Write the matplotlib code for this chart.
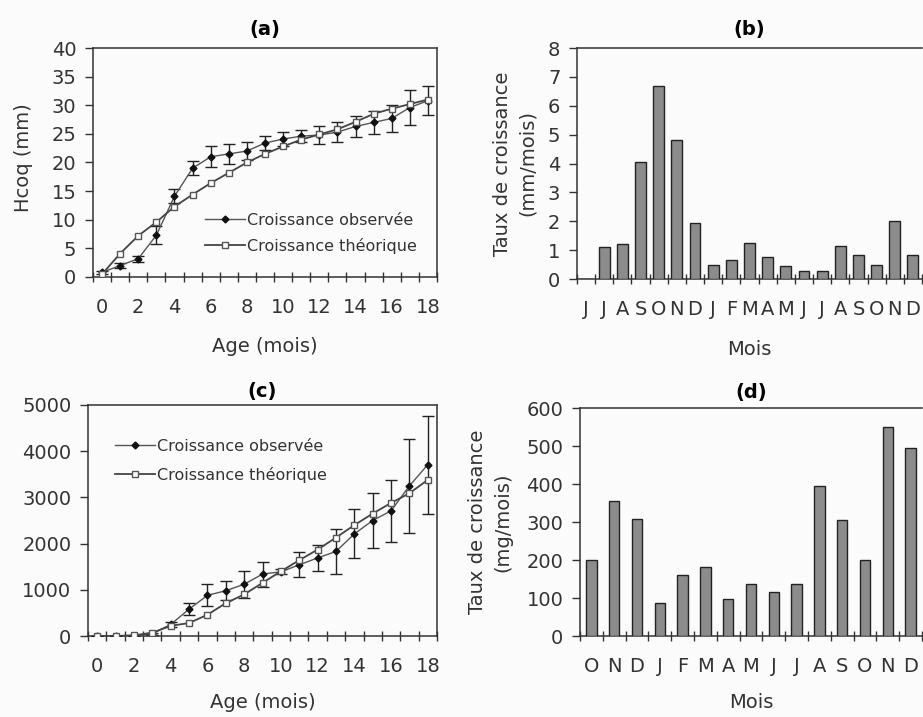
import numpy as np
import matplotlib
matplotlib.use('Agg')
import matplotlib.pyplot as plt

plt.rcParams['font.family'] = 'DejaVu Sans'
plt.rcParams['font.size'] = 14

# Données (a) : hauteur de la coquille
ages = list(range(0, 19))
hcoq_obs = [0.8, 2.0, 3.2, 7.3, 14.1, 19.0, 21.0, 21.5, 22.0, 23.4, 24.1,
            24.6, 24.8, 25.3, 26.3, 27.0, 27.7, 29.6, 30.8]
hcoq_err = [0.3, 0.4, 0.5, 1.6, 1.2, 1.2, 1.8, 1.7, 1.5, 1.2, 1.3,
            1.1, 1.5, 1.8, 1.8, 2.0, 2.3, 3.0, 2.5]
hcoq_theo = [0.5, 4.1, 7.2, 9.6, 12.3, 14.4, 16.4, 18.2, 20.0, 21.5, 22.8,
             24.0, 24.9, 25.8, 27.1, 28.5, 29.4, 30.2, 31.0]

# Données (b) : taux de croissance en longueur
mois_b = ['J', 'J', 'A', 'S', 'O', 'N', 'D', 'J', 'F', 'M', 'A', 'M',
          'J', 'J', 'A', 'S', 'O', 'N', 'D']
taux_b = [0, 1.1, 1.2, 4.05, 6.7, 4.8, 1.95, 0.47, 0.65, 1.25, 0.75, 0.46,
          0.27, 0.27, 1.13, 0.84, 0.47, 2.0, 0.84]

# Données (c) : poids
poids_obs = [5, 5, 10, 50, 250, 580, 880, 980, 1120, 1340, 1390, 1540,
             1690, 1830, 2210, 2500, 2710, 3250, 3710]
poids_err = [0, 0, 0, 20, 50, 130, 240, 200, 290, 270, 50, 270,
             280, 490, 530, 590, 670, 1010, 1060]
poids_theo = [0, 0, 15, 70, 220, 280, 460, 710, 900, 1150, 1400, 1640,
              1870, 2130, 2400, 2650, 2880, 3090, 3380]

# Données (d) : taux de croissance pondéral
mois_d = ['O', 'N', 'D', 'J', 'F', 'M', 'A', 'M', 'J', 'J', 'A', 'S',
          'O', 'N', 'D']
taux_d = [200, 355, 307, 87, 160, 181, 98, 138, 116, 138, 396, 304,
          200, 551, 496]

W, H = 923, 717
bg = '#fbfbfb'
fig = plt.figure(figsize=(W / 100, H / 100), dpi=100, facecolor=bg)


def px_axes(l, t, r, b):
    return fig.add_axes([l / W, 1 - b / H, (r - l) / W, (b - t) / H])


def style_axes(ax, n, xlabels_pos, xlabels):
    ax.set_facecolor(bg)
    for s in ax.spines.values():
        s.set_color('#333333')
        s.set_linewidth(1.1)
    ax.set_xlim(-0.5, n - 0.5)
    ax.set_xticks(np.arange(-0.5, n, 1.0))
    ax.set_xticklabels([])
    ax.set_xticks(xlabels_pos, minor=True)
    ax.set_xticklabels(xlabels, minor=True)
    ax.tick_params(axis='x', which='major', direction='inout', length=7,
                   width=1, color='#333333')
    ax.tick_params(axis='x', which='minor', length=0, pad=15,
                   labelcolor='#333333')
    ax.tick_params(axis='y', direction='out', length=6, width=1, pad=6,
                   color='#333333', labelcolor='#333333')


def courbes(ax, obs, err, theo):
    ax.errorbar(ages, obs, yerr=err, fmt='none', ecolor='#222222',
                elinewidth=1, capsize=4, capthick=1, zorder=3)
    ax.plot(ages, obs, color='#555555', lw=1, marker='D', ms=3.5,
            mfc='#111111', mec='#111111', label='Croissance observée', zorder=4)
    ax.plot(ages, theo, color='#444444', lw=1.3, marker='s', ms=4,
            mfc='white', mec='#555555', mew=1, label='Croissance théorique',
            zorder=4)


# (a)
ax_a = px_axes(93, 48, 437, 277)
style_axes(ax_a, 19, ages[::2], [str(a) for a in ages[::2]])
courbes(ax_a, hcoq_obs, hcoq_err, hcoq_theo)
ax_a.set_ylim(0, 40)
ax_a.set_yticks(range(0, 41, 5))
ax_a.set_title('(a)', fontweight='bold', fontsize=14, pad=9)
ax_a.set_xlabel('Age (mois)', color='#333333')
ax_a.xaxis.set_label_coords(0.5, -0.262)
ax_a.set_ylabel('Hcoq (mm)', color='#333333')
ax_a.yaxis.set_label_coords(-0.174, 0.52)
ax_a.legend(loc='upper left', bbox_to_anchor=(0.326, 0.281), frameon=False,
            fontsize=11.5, handlelength=2.5, handletextpad=0.15,
            labelspacing=0.62, borderpad=0, borderaxespad=0,
            labelcolor='#333333')

# (b)
ax_b = px_axes(577, 48, 922, 279)
style_axes(ax_b, len(mois_b), range(len(mois_b)), mois_b)
ax_b.spines['right'].set_visible(False)
ax_b.bar(range(len(mois_b)), taux_b, width=0.6, color='#8c8c8c',
         edgecolor='#222222', linewidth=1, zorder=3)
ax_b.set_ylim(0, 8)
ax_b.set_yticks(range(0, 9))
ax_b.set_title('(b)', fontweight='bold', fontsize=14, pad=9)
ax_b.set_xlabel('Mois', color='#333333')
ax_b.xaxis.set_label_coords(0.5, -0.264)
ax_b.set_ylabel('Taux de croissance\n(mm/mois)', color='#333333',
                linespacing=1.4)
ax_b.yaxis.set_label_coords(-0.116, 0.5)

# (c)
ax_c = px_axes(88, 405, 437, 636)
style_axes(ax_c, 19, ages[::2], [str(a) for a in ages[::2]])
courbes(ax_c, poids_obs, poids_err, poids_theo)
ax_c.set_ylim(0, 5000)
ax_c.set_yticks(range(0, 5001, 1000))
ax_c.set_title('(c)', fontweight='bold', fontsize=14, pad=6)
ax_c.set_xlabel('Age (mois)', color='#333333')
ax_c.xaxis.set_label_coords(0.5, -0.245)
ax_c.legend(loc='upper left', bbox_to_anchor=(0.077, 0.854), frameon=False,
            fontsize=11.5, handlelength=2.5, handletextpad=0.15,
            labelspacing=0.8, borderpad=0, borderaxespad=0,
            labelcolor='#333333')

# (d)
ax_d = px_axes(580, 408, 922, 636)
style_axes(ax_d, len(mois_d), range(len(mois_d)), mois_d)
ax_d.spines['right'].set_visible(False)
ax_d.bar(range(len(mois_d)), taux_d, width=0.45, color='#8c8c8c',
         edgecolor='#222222', linewidth=1, zorder=3)
ax_d.set_ylim(0, 600)
ax_d.set_yticks(range(0, 601, 100))
ax_d.set_title('(d)', fontweight='bold', fontsize=14, pad=7)
ax_d.set_xlabel('Mois', color='#333333')
ax_d.xaxis.set_label_coords(0.5, -0.25)
ax_d.set_ylabel('Taux de croissance\n(mg/mois)', color='#333333',
                linespacing=1.4)
ax_d.yaxis.set_label_coords(-0.198, 0.5)

fig.savefig('out.png', dpi=100, facecolor=bg)
